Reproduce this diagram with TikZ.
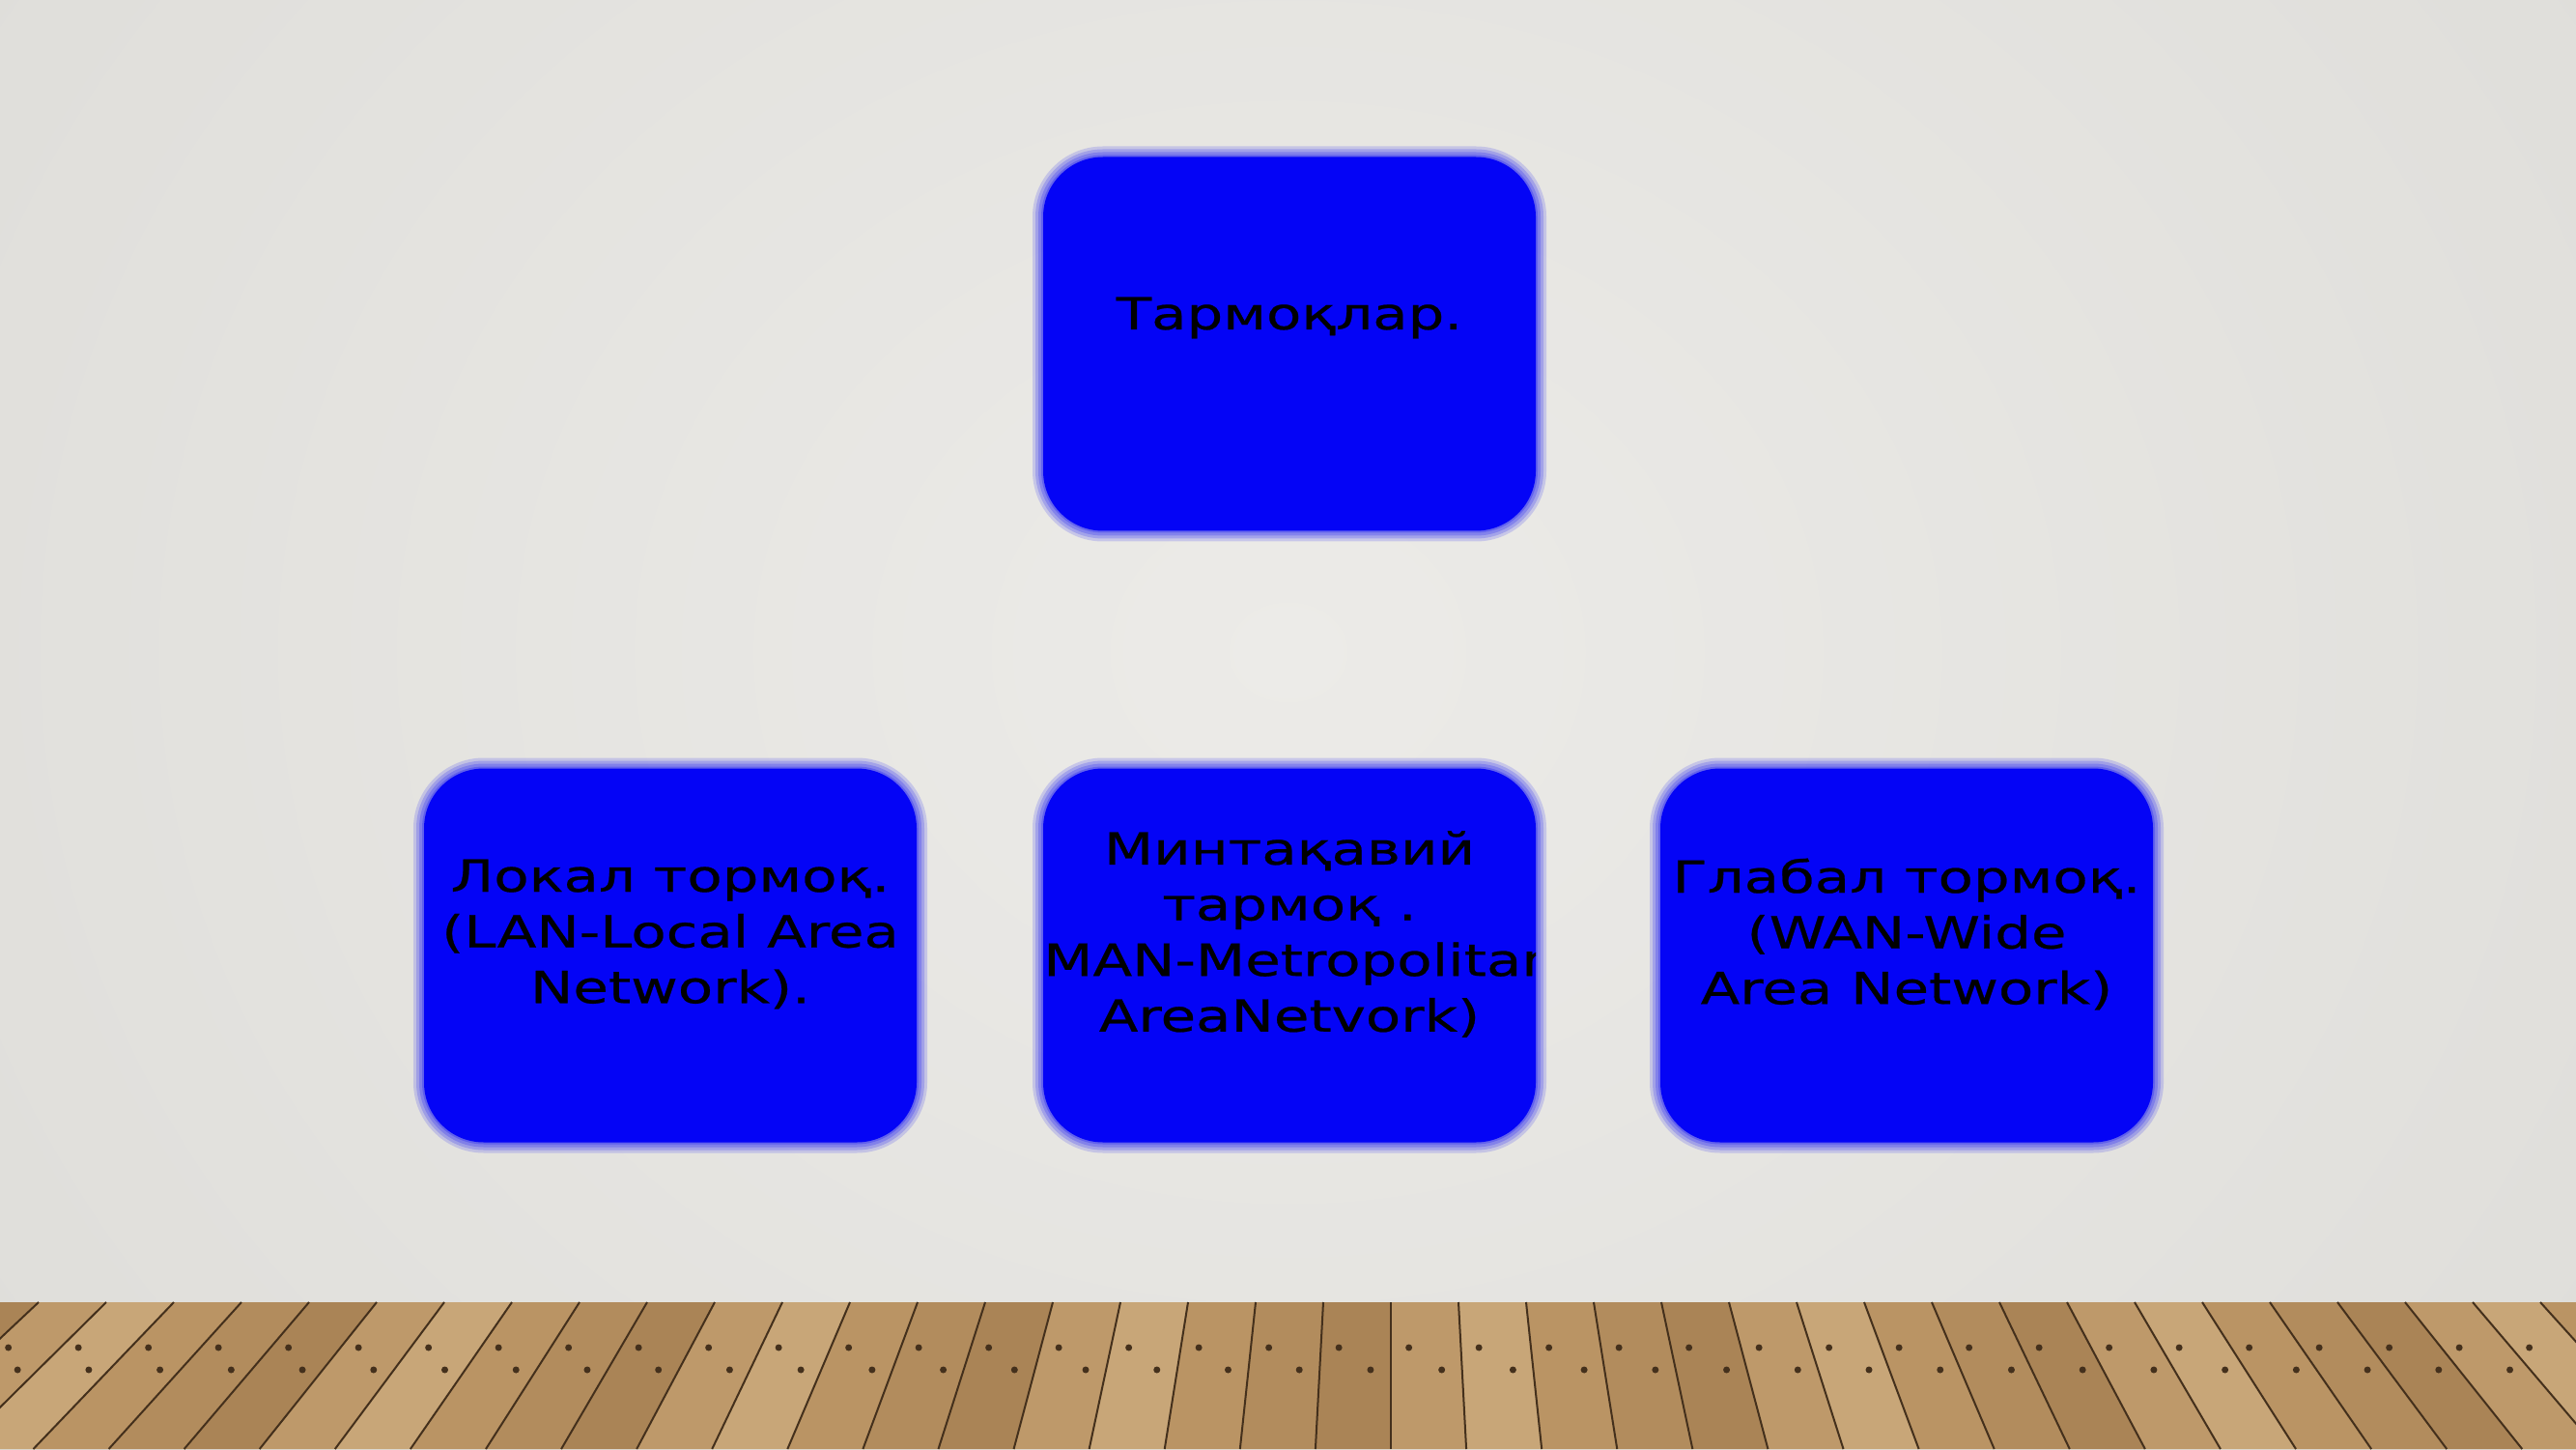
\documentclass[tikz,border=0pt]{standalone}
\usepackage{fontspec}
\setmainfont{DejaVu Sans}[FakeStretch=1.3, FakeBold=0.5]
\usetikzlibrary{positioning}
\definecolor{boxblue}{RGB}{4,4,246}
\definecolor{wallin}{RGB}{236,235,232}
\definecolor{wallmid}{RGB}{223,222,218}
\definecolor{wallout}{RGB}{205,203,198}
\definecolor{wallcorner}{RGB}{198,196,190}
\definecolor{wood0}{RGB}{190,153,106}
\definecolor{wood1}{RGB}{178,140,93}
\definecolor{wood2}{RGB}{200,166,120}
\definecolor{wood3}{RGB}{170,132,86}
\definecolor{wood4}{RGB}{186,148,100}
\definecolor{seam}{RGB}{68,48,28}
\pgfdeclareradialshading{wall}{\pgfpoint{0bp}{0bp}}{color(0bp)=(wallin); color(30bp)=(wallmid); color(50bp)=(wallout); color(58bp)=(wallcorner); color(71bp)=(wallcorner)}
\begin{document}
\begin{tikzpicture}
        \tikzstyle{box_style} = [rounded corners=0.62cm, fill=boxblue, minimum width=5.1cm, minimum height=3.87cm, inner sep=0, outer sep=0,
          preaction={draw=boxblue, draw opacity=0.15, line width=0.22cm},
          preaction={draw=boxblue, draw opacity=0.18, line width=0.16cm},
          preaction={draw=boxblue, draw opacity=0.2, line width=0.1cm},
          preaction={draw=boxblue, draw opacity=0.25, line width=0.04cm}]
        \tikzstyle{text_style} = [align=center, text=black, font=\fontsize{13}{16.4}\selectfont]
        \clip (0,0) rectangle (26.67,15);
        % wall and floor
        \shade[shading=wall] (0,-3) rectangle (26.67,19.5);
        \foreach \i in {-21,...,18}{
          \pgfmathsetmacro\xa{14.4+0.7*\i}
          \pgfmathsetmacro\xb{14.4+0.7*(\i+1)}
          \pgfmathtruncatemacro\c{mod(\i*7+210,5)}
          \fill[wood\c] (\xa,1.52) -- (\xb,1.52) -- ({14.4+(\xb-14.4)*1.1155},0) -- ({14.4+(\xa-14.4)*1.1155},0) -- cycle;
          \draw[seam, line width=0.02cm] (\xa,1.52) -- ({14.4+(\xa-14.4)*1.1155},0);
          \fill[seam] ({14.4+(\xa+0.18-14.4)*1.0357},1.05) circle (0.035);
          \fill[seam] ({14.4+(\xa+0.5-14.4)*1.0532},0.82) circle (0.035);
        }
        % boxes
        \node[box_style] (top) at (13.35,11.44) {};
        \node[box_style, below=2.46cm of top] (man) {};
        \node[box_style, left=1.31cm of man] (lan) {};
        \node[box_style, right=1.29cm of man] (wan) {};
        \node[text_style] (toplbl) at ([yshift=0.27cm]top.center) {Тармоқлар.};
        \node[text_style] (lanlbl) at ([yshift=0.22cm]lan.center) {Локал тормоқ.\\(LAN-Local Area\\Network).};
        \node[text_style] (wanlbl) at ([yshift=0.22cm]wan.center) {Глабал тормоқ.\\(WAN-Wide\\Area Network)};
        \begin{scope}
          \clip (man.south west) rectangle (man.north east);
          \node[text_style] (manlbl) at ([yshift=0.22cm]man.center) {Минтақавий\\тармоқ .\\(MAN-Metropolitan\\AreaNetvork)};
        \end{scope}
\end{tikzpicture}
\end{document}
